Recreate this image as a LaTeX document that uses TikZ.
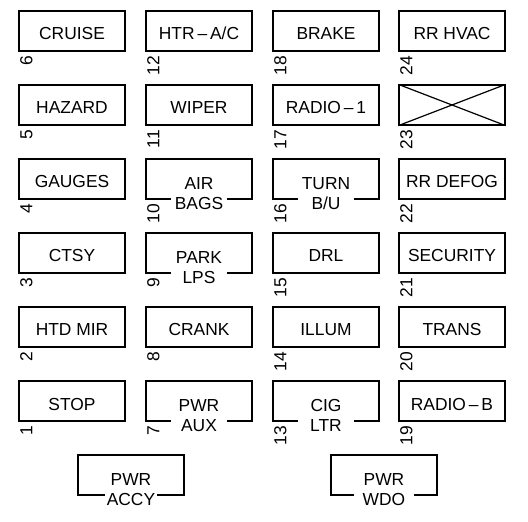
\documentclass[tikz,border=0pt]{standalone}
\usepackage{fontspec}
\setmainfont{Liberation Sans}
\usetikzlibrary{calc}

\begin{document}
\begin{tikzpicture}[x=0.5pt, y=-0.5pt,
		fuse/.style={draw, line width=0.6pt, minimum width=53pt, minimum height=20pt, inner sep=0pt,
			text height=0.9em, text depth=0pt, font=\fontsize{8.7}{10}\selectfont},
		fusetwo/.style={fuse, text height=1.05em},
		gaptext/.style={fill=white, minimum width=28pt, inner xsep=1pt, inner ysep=0.6pt,
			text height=0.72em, text depth=0pt, font=\fontsize{8.7}{10}\selectfont},
		fusenum/.style={rotate=90, anchor=base east, inner sep=0pt, font=\fontsize{8.7}{10}\selectfont}]
				\useasboundingbox (0, 0) rectangle (528, 522);
				
				% first column
				\node[fuse] (f6) at (72, 31) {CRUISE};
				\node[fuse] (f5) at (72, 105) {HAZARD};
				\node[fuse] (f4) at (72, 179) {GAUGES};
				\node[fuse] (f3) at (72, 253) {CTSY};
				\node[fuse] (f2) at (72, 327) {HTD MIR};
				\node[fuse] (f1) at (72, 401) {STOP};
				
				% second column
				\node[fuse] (f12) at (199, 31) {HTR\,–\,A/C};
				\node[fuse] (f11) at (199, 105) {WIPER};
				\node[fusetwo] (f10) at (199, 179) {AIR};
				\node[gaptext] (t10) at ($(f10.south)+(0, 3)$) {BAGS};
				\node[fusetwo] (f9) at (199, 253) {PARK};
				\node[gaptext] (t9) at ($(f9.south)+(0, 3)$) {LPS};
				\node[fuse] (f8) at (199, 327) {CRANK};
				\node[fusetwo] (f7) at (199, 401) {PWR};
				\node[gaptext] (t7) at ($(f7.south)+(0, 3)$) {AUX};
				
				% third column
				\node[fuse] (f18) at (326, 31) {BRAKE};
				\node[fuse] (f17) at (326, 105) {RADIO\,–\,1};
				\node[fusetwo] (f16) at (326, 179) {TURN};
				\node[gaptext] (t16) at ($(f16.south)+(0, 3)$) {B/U};
				\node[fuse] (f15) at (326, 253) {DRL};
				\node[fuse] (f14) at (326, 327) {ILLUM};
				\node[fusetwo] (f13) at (326, 401) {CIG};
				\node[gaptext] (t13) at ($(f13.south)+(0, 3)$) {LTR};
				
				% fourth column
				\node[fuse] (f24) at (452, 31) {RR HVAC};
				\node[fuse] (f23) at (452, 105) {};
				\draw[line width=0.6pt] (f23.north west) -- (f23.south east);
				\draw[line width=0.6pt] (f23.south west) -- (f23.north east);
				\node[fuse] (f22) at (452, 179) {RR DEFOG};
				\node[fuse] (f21) at (452, 253) {SECURITY};
				\node[fuse] (f20) at (452, 327) {TRANS};
				\node[fuse] (f19) at (452, 401) {RADIO\,–\,B};
				
				% bottom row
				\node[fusetwo] (accy) at (131, 475) {PWR};
				\node[gaptext, minimum width=25pt] (taccy) at ($(accy.south)+(0, 3)$) {ACCY};
				\node[fusetwo] (wdo) at (384, 475) {PWR};
				\node[gaptext, minimum width=30pt] (twdo) at ($(wdo.south)+(0, 3)$) {WDO};
				
				% fuse numbers
				\node[fusenum] (n6) at ($(f6.south west)+(14, 4)$) {6};
				\node[fusenum] (n5) at ($(f5.south west)+(14, 4)$) {5};
				\node[fusenum] (n4) at ($(f4.south west)+(14, 4)$) {4};
				\node[fusenum] (n3) at ($(f3.south west)+(14, 4)$) {3};
				\node[fusenum] (n2) at ($(f2.south west)+(14, 4)$) {2};
				\node[fusenum] (n1) at ($(f1.south west)+(14, 4)$) {1};
				\node[fusenum] (n12) at ($(f12.south west)+(14, 4)$) {12};
				\node[fusenum] (n11) at ($(f11.south west)+(14, 4)$) {11};
				\node[fusenum] (n10) at ($(f10.south west)+(14, 4)$) {10};
				\node[fusenum] (n9) at ($(f9.south west)+(14, 4)$) {9};
				\node[fusenum] (n8) at ($(f8.south west)+(14, 4)$) {8};
				\node[fusenum] (n7) at ($(f7.south west)+(14, 4)$) {7};
				\node[fusenum] (n18) at ($(f18.south west)+(14, 4)$) {18};
				\node[fusenum] (n17) at ($(f17.south west)+(14, 4)$) {17};
				\node[fusenum] (n16) at ($(f16.south west)+(14, 4)$) {16};
				\node[fusenum] (n15) at ($(f15.south west)+(14, 4)$) {15};
				\node[fusenum] (n14) at ($(f14.south west)+(14, 4)$) {14};
				\node[fusenum] (n13) at ($(f13.south west)+(14, 4)$) {13};
				\node[fusenum] (n24) at ($(f24.south west)+(14, 4)$) {24};
				\node[fusenum] (n23) at ($(f23.south west)+(14, 4)$) {23};
				\node[fusenum] (n22) at ($(f22.south west)+(14, 4)$) {22};
				\node[fusenum] (n21) at ($(f21.south west)+(14, 4)$) {21};
				\node[fusenum] (n20) at ($(f20.south west)+(14, 4)$) {20};
				\node[fusenum] (n19) at ($(f19.south west)+(14, 4)$) {19};
			\end{tikzpicture}
\end{document}
